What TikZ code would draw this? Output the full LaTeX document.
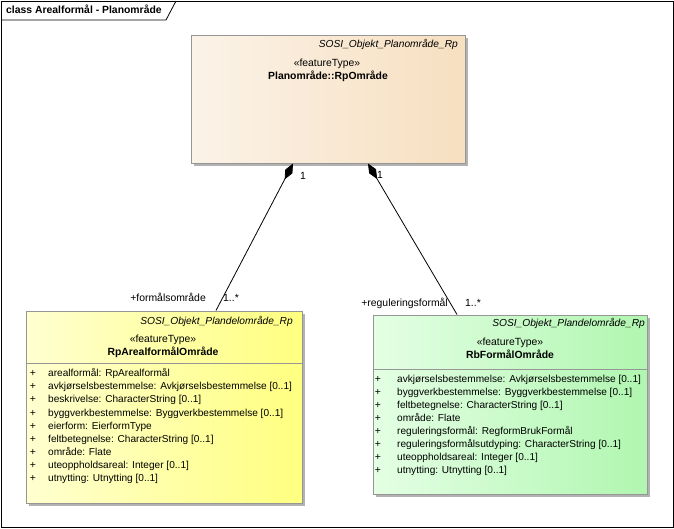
\documentclass[tikz,border=0pt]{standalone}
\usepackage{fontspec}
\setmainfont{Liberation Sans}
\usepackage{tikz}
\usetikzlibrary{positioning, arrows.meta, shadows}

\definecolor{rpleft}{RGB}{251,243,232}
\definecolor{rpright}{RGB}{247,223,192}
\definecolor{ylleft}{RGB}{255,255,208}
\definecolor{ylright}{RGB}{255,255,128}
\definecolor{gnleft}{RGB}{228,255,228}
\definecolor{gnright}{RGB}{176,246,176}
\definecolor{edgegray}{RGB}{150,150,150}
\definecolor{shadowgray}{RGB}{178,178,178}

\begin{document}
\begin{tikzpicture}[x=1pt, y=-1pt,
		every node/.style={font=\fontsize{10.4}{12}\selectfont, inner sep=0pt, text height=7.6pt, text depth=2.2pt},
		classbox/.style={draw=edgegray, line width=1pt, drop shadow={shadow xshift=3pt, shadow yshift=-3pt, fill=shadowgray, opacity=1}},
		tagname/.style={anchor=east, font=\fontsize{10.2}{12}\selectfont\itshape},
		clsname/.style={font=\fontsize{10.4}{12}\selectfont\bfseries},
		attr/.style={anchor=west, font=\fontsize{10.1}{12}\selectfont},
		comp/.style={{Diamond[length=18pt, width=8pt]}-, line width=0.8pt}]
		
		%//frame and tab
		\useasboundingbox (0,0) rectangle (674,528);
		\draw[line width=0.8pt] (1,1) rectangle (673,527);
		\draw[line width=0.8pt] (1,20) -- (166,20) -- (176,1);
		\node[anchor=west, clsname] (title) at (6,10.5) {class Arealformål - Planområde};
		
		%//Planområde::RpOmråde
		\node[classbox, left color=rpleft, right color=rpright, minimum width=274pt, minimum height=128pt] (rp) at (328,99) {};
		\node[tagname] (rptag) at (458,45) {SOSI\_Objekt\_Planområde\_Rp};
		\node (rpst) at (327,64) {«featureType»};
		\node[clsname] (rpname) at (328,77) {Planområde::RpOmråde};
		
		%//RpArealformålOmråde
		\node[classbox, left color=ylleft, right color=ylright, minimum width=276pt, minimum height=192pt] (ar) at (164,407) {};
		\node[tagname] (artag) at (293,322) {SOSI\_Objekt\_Plandelområde\_Rp};
		\node (arst) at (163,340) {«featureType»};
		\node[clsname] (arname) at (163,353) {RpArealformålOmråde};
		\draw[edgegray, line width=1pt] (ar.west |- 0,363) -- (ar.east |- 0,363);
		
		\foreach \i/\txt in {0/arealformål: RpArealformål,
			1/avkjørselsbestemmelse: Avkjørselsbestemmelse [0..1],
			2/beskrivelse: CharacterString [0..1],
			3/byggverkbestemmelse: Byggverkbestemmelse [0..1],
			4/eierform: EierformType,
			5/feltbetegnelse: CharacterString [0..1],
			6/område: Flate,
			7/uteoppholdsareal: Integer [0..1],
			8/utnytting: Utnytting [0..1]}
		{
			\node (arp\i) at (33,374+13.1*\i) {+};
			\node[attr] (ara\i) at (48,374+13.1*\i) {\txt};
		}
		
		%//RbFormålOmråde
		\node[classbox, left color=gnleft, right color=gnright, minimum width=274pt, minimum height=179pt] (rb) at (510,404.5) {};
		\node[tagname] (rbtag) at (645,324) {SOSI\_Objekt\_Plandelområde\_Rp};
		\node (rbst) at (510,343) {«featureType»};
		\node[clsname] (rbname) at (510,356) {RbFormålOmråde};
		\draw[edgegray, line width=1pt] (rb.west |- 0,369) -- (rb.east |- 0,369);
		
		\foreach \i/\txt in {0/avkjørselsbestemmelse: Avkjørselsbestemmelse [0..1],
			1/byggverkbestemmelse: Byggverkbestemmelse [0..1],
			2/feltbetegnelse: CharacterString [0..1],
			3/område: Flate,
			4/reguleringsformål: RegformBrukFormål,
			5/reguleringsformålsutdyping: CharacterString [0..1],
			6/uteoppholdsareal: Integer [0..1],
			7/utnytting: Utnytting [0..1]}
		{
			\node (rbp\i) at (378,380+12.9*\i) {+};
			\node[attr] (rba\i) at (397,380+12.9*\i) {\txt};
		}
		
		%//compositions
		\draw[comp] (rp.south -| 293,0) -- (ar.north -| 216,0);
		\draw[comp] (rp.south -| 368,0) -- (rb.north -| 457,0);
		
		\node[anchor=west] (armult1) at (300,177) {1};
		\node[anchor=east] (arrole) at (206,299) {+formålsområde};
		\node[anchor=west] (armult2) at (223,299) {1..*};
		
		\node[anchor=west] (rbmult1) at (377,176) {1};
		\node[anchor=east] (rbrole) at (448,304) {+reguleringsformål};
		\node[anchor=west] (rbmult2) at (465,304) {1..*};
	\end{tikzpicture}
\end{document}
